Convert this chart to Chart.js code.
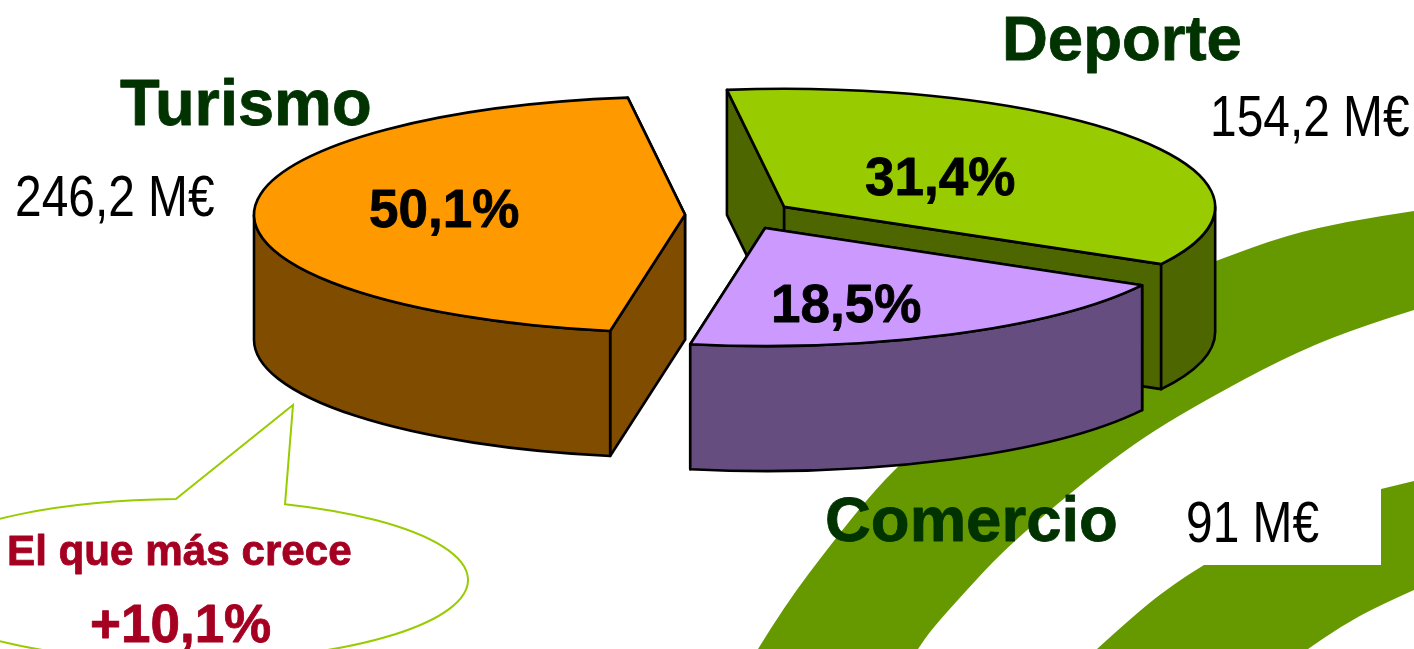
<!DOCTYPE html>
<html lang="es">
<head>
<meta charset="utf-8">
<title>Turismo, Deporte, Comercio</title>
<script src="https://cdn.jsdelivr.net/npm/chart.js@4"></script>
<style>
    html, body { margin: 0; padding: 0; background: #fff; overflow: hidden; }
    canvas { display: block; }
</style>
</head>
<body>
<canvas id="pieChart" width="1414" height="649"></canvas>
<script>
const categories = ['Turismo', 'Deporte', 'Comercio'];
const shares = [50.1, 31.4, 18.5];
const amounts = [246.2, 154.2, 91];
const growthText = 'El que más crece';
const growthValue = 10.1;

const topColors = ['#FF9900', '#99CC00', '#CC99FF'];
const sideColors = ['#804D00', '#4D6600', '#664D80'];

// fake 3D pie: centre, radius, squash, height and how far slices are pulled out
const PIE = { cx: 739, cy: 215, rx: 431, squash: 0.274, depth: 125, explode: 54 };
// the original is in perspective, so slices are not quite at their true angle
const WARP = { amount: 9.07 * Math.PI / 180, phase: 84 * Math.PI / 180 };

const esNumber = (v) => String(v).replace('.', ',');

function warpAngle(angle) {
    const fromTop = angle + Math.PI / 2;
    return angle + WARP.amount * Math.sin(fromTop - WARP.phase);
}

function tracePolyline(ctx, pts) {
    ctx.beginPath();
    pts.forEach((p, i) => (i === 0 ? ctx.moveTo(p[0], p[1]) : ctx.lineTo(p[0], p[1])));
    ctx.closePath();
}

// smooth line through the points, the pen is expected on the first one
function curveThrough(ctx, pts) {
    for (let i = 1; i < pts.length - 1; i++) {
        const mx = (pts[i][0] + pts[i + 1][0]) / 2;
        const my = (pts[i][1] + pts[i + 1][1]) / 2;
        ctx.quadraticCurveTo(pts[i][0], pts[i][1], mx, my);
    }
    const last = pts[pts.length - 1];
    ctx.lineTo(last[0], last[1]);
}

function drawBackground(ctx) {
    ctx.save();
    ctx.fillStyle = '#fff';
    ctx.fillRect(0, 0, 1414, 649);
    ctx.fillStyle = '#669900';

    ctx.beginPath();
    ctx.moveTo(758, 649);
    curveThrough(ctx, [[758, 649], [785, 605], [832, 543], [869, 497], [899, 465], [1000, 370],
        [1100, 305], [1218, 260], [1287, 235], [1350, 221], [1414, 211]]);
    ctx.lineTo(1414, 310);
    curveThrough(ctx, [[1414, 310], [1350, 330], [1280, 360], [1206, 400], [1155, 430], [1112, 460],
        [1058, 503], [1002, 552], [964, 593], [931, 630], [918, 649]]);
    ctx.closePath();
    ctx.fill();

    ctx.beginPath();
    ctx.moveTo(1097, 649);
    curveThrough(ctx, [[1097, 649], [1142, 608], [1180, 580], [1204, 565]]);
    ctx.lineTo(1381, 565);
    ctx.lineTo(1381, 489);
    ctx.lineTo(1414, 481);
    ctx.lineTo(1414, 590);
    curveThrough(ctx, [[1414, 590], [1376, 607], [1340, 627], [1308, 649]]);
    ctx.closePath();
    ctx.fill();
    ctx.restore();
}

function drawCallout(ctx) {
    const cx = 185, cy = 580, rx = 283, ry = 81;
    const from = Math.atan2((505 - cy) / ry, (284 - cx) / rx);
    const to = Math.atan2((500 - cy) / ry, (176 - cx) / rx);
    ctx.save();
    ctx.beginPath();
    ctx.moveTo(293, 405);
    ctx.ellipse(cx, cy, rx, ry, 0, from, to + Math.PI * 2);
    ctx.closePath();
    ctx.fillStyle = '#fff';
    ctx.fill();
    ctx.strokeStyle = '#99CC00';
    ctx.lineWidth = 2;
    ctx.stroke();
    ctx.restore();
}

function drawSlice(ctx, arc, i) {
    const { cx, cy, rx, squash, depth, explode } = PIE;
    const ry = rx * squash;
    const start = arc.startAngle;
    const end = arc.endAngle;
    const half = (start + end) / 2;
    // pull out along the mean of the drawn and the true middle of the slice
    const pull = (half + arc.trueHalf) / 2;
    const dx = Math.cos(pull) * explode;
    const dy = Math.sin(pull) * explode;
    const ox = cx + dx;
    const oy = cy + dy * squash;

    ctx.save();
    ctx.lineWidth = 2.6;
    ctx.lineJoin = 'round';
    ctx.strokeStyle = '#000';
    ctx.fillStyle = sideColors[i];

    // the two cut faces, the one further back first
    [start, end].sort((a, b) => Math.sin(a) - Math.sin(b)).forEach((angle) => {
        const x = ox + rx * Math.cos(angle);
        const y = oy + ry * Math.sin(angle);
        tracePolyline(ctx, [[ox, oy], [x, y], [x, y + depth], [ox, oy + depth]]);
        ctx.fill();
        ctx.stroke();
    });

    // outer wall, only where the rim faces the viewer
    for (let k = 0; k < 3; k++) {
        const lo = Math.max(start, k * Math.PI * 2);
        const hi = Math.min(end, k * Math.PI * 2 + Math.PI);
        if (hi <= lo) continue;
        ctx.beginPath();
        ctx.ellipse(ox, oy, rx, ry, 0, lo, hi);
        ctx.ellipse(ox, oy + depth, rx, ry, 0, hi, lo, true);
        ctx.closePath();
        ctx.fill();
        ctx.stroke();
    }

    // top face comes from the library's own arc, squashed
    ctx.save();
    ctx.translate(cx, cy);
    ctx.scale(1, squash);
    ctx.translate(-cx, -cy);
    ctx.translate(dx, dy);
    arc.draw(ctx);
    ctx.restore();

    // outline done after the transform so the line keeps an even width
    ctx.beginPath();
    ctx.moveTo(ox, oy);
    ctx.ellipse(ox, oy, rx, ry, 0, start, end);
    ctx.closePath();
    ctx.stroke();
    ctx.restore();
}

// bold labels in the original look a bit fatter than the font, so a thin stroke on top
function putBold(ctx, text, x, y, size, color) {
    ctx.font = 'bold ' + size + 'px "Liberation Sans", Arial, sans-serif';
    ctx.fillStyle = color;
    ctx.strokeStyle = color;
    ctx.lineWidth = 0.8;
    ctx.lineJoin = 'round';
    ctx.fillText(text, x, y);
    ctx.strokeText(text, x, y);
}

// no narrow face is installed, so the regular one is squeezed
function putNarrow(ctx, text, x, y) {
    ctx.save();
    ctx.translate(x, y);
    ctx.scale(0.84, 1);
    ctx.font = '57px "Liberation Sans", Arial, sans-serif';
    ctx.fillStyle = '#000';
    ctx.fillText(text, 0, 0);
    ctx.restore();
}

function drawLabels(ctx) {
    const nameAt = [[120, 125, 65], [1002, 60, 63.5], [825, 541, 63.5]];
    const amountAt = [[15, 216], [1210, 136], [1186, 542]];
    const shareAt = [[369, 227], [865, 195], [771, 322]];

    ctx.save();
    ctx.textAlign = 'left';
    ctx.textBaseline = 'alphabetic';
    categories.forEach((name, i) => {
        putBold(ctx, name, nameAt[i][0], nameAt[i][1], nameAt[i][2], '#003300');
        putNarrow(ctx, esNumber(amounts[i]) + ' M€', amountAt[i][0], amountAt[i][1]);
        putBold(ctx, esNumber(shares[i]) + '%', shareAt[i][0], shareAt[i][1], 53, '#000');
    });
    putBold(ctx, growthText, 7, 565, 42.2, '#A50021');
    putBold(ctx, '+' + esNumber(growthValue) + '%', 90, 642, 53, '#A50021');
    ctx.restore();
}

const pie3dPlugin = {
    id: 'pie3d',
    beforeDraw(chart) {
        drawBackground(chart.ctx);
        drawCallout(chart.ctx);
    },
    afterDatasetUpdate(chart, args) {
        chart.getDatasetMeta(args.index).data.forEach((arc) => {
            arc.trueHalf = (arc.startAngle + arc.endAngle) / 2;
            arc.startAngle = warpAngle(arc.startAngle);
            arc.endAngle = warpAngle(arc.endAngle);
            arc.circumference = arc.endAngle - arc.startAngle;
            arc.x = PIE.cx;
            arc.y = PIE.cy;
            arc.innerRadius = 0;
            arc.outerRadius = PIE.rx;
        });
    },
    beforeDatasetDraw(chart, args) {
        args.meta.data.forEach((arc, i) => drawSlice(chart.ctx, arc, i));
        return false;
    },
    afterDraw(chart) {
        drawLabels(chart.ctx);
    }
};

new Chart(document.getElementById('pieChart').getContext('2d'), {
    type: 'pie',
    data: {
        labels: categories,
        datasets: [{ data: shares, backgroundColor: topColors, borderWidth: 0 }]
    },
    options: {
        responsive: false,
        animation: false,
        rotation: 181,
        plugins: { legend: { display: false }, tooltip: { enabled: false } }
    },
    plugins: [pie3dPlugin]
});
</script>
</body>
</html>
